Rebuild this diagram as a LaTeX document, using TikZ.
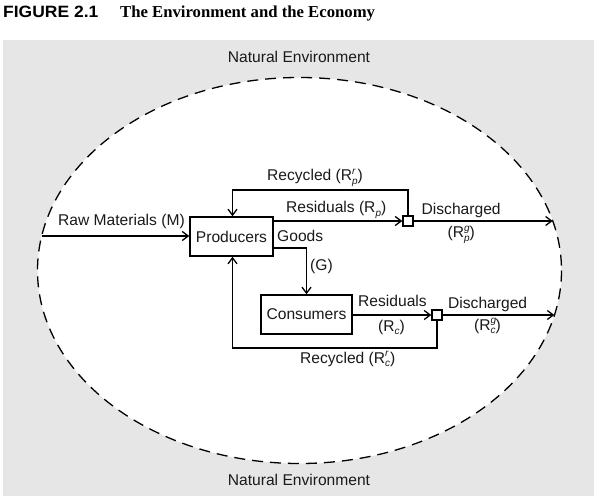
\documentclass[tikz,border=0pt]{standalone}
\usepackage{fontspec}
\setmainfont{Liberation Sans}
\newfontfamily\titleserif{Liberation Serif}
\usetikzlibrary{arrows.meta}
\definecolor{envgray}{HTML}{E6E6E6}
\definecolor{txtcol}{HTML}{1A1A1A}
\newcommand{\Rsx}[2]{R\rlap{\raisebox{0.78ex}{\fontsize{10bp}{10bp}\selectfont\itshape #1}}\raisebox{-0.42ex}{\fontsize{10bp}{10bp}\selectfont\itshape #2}}
\begin{document}
\begin{tikzpicture}[x=1bp,y=-1bp,
  lbl/.style={inner sep=0pt,anchor=base west,text=txtcol,font=\fontsize{15.6bp}{18bp}\selectfont},
  boxnode/.style={draw,line width=1.5bp,inner sep=0pt,text=txtcol,font=\fontsize{15.6bp}{18bp}\selectfont},
  sqnode/.style={draw,line width=1.5bp,fill=white,inner sep=0pt,minimum size=10bp},
  flow/.style={line width=1.5bp,-{Straight Barb[length=6bp,width=9bp,line width=1.3bp]}},
  plain/.style={line width=1.5bp}]
\useasboundingbox (0,0) rectangle (596,501);
% title
\node[inner sep=0pt,anchor=base west] (fig) at (3,18) {\scalebox{1.12}[1.05]{\fontsize{15.6bp}{18bp}\selectfont\bfseries FIGURE 2.1}};
\node[inner sep=0pt,anchor=base west] (ttl) at (120,18) {\titleserif\fontsize{16.7bp}{18bp}\selectfont\bfseries The Environment and the Economy};
% environment
\fill[envgray] (3,40) rectangle (594,496);
\draw[fill=white,line width=1.3bp,dash pattern=on 11bp off 7bp] (299.5,270.5) ellipse [x radius=262,y radius=193];
\node[lbl,anchor=base] (netop) at (299,63) {Natural Environment};
\node[lbl,anchor=base] (nebot) at (299,485) {Natural Environment};
% boxes
\node[boxnode,minimum width=83bp,minimum height=39bp] (prod) at (231.5,236.5) {Producers};
\node[boxnode,minimum width=91bp,minimum height=39bp] (cons) at (306.5,314.5) {Consumers};
\node[sqnode] (sqp) at (408,221) {};
\node[sqnode] (sqc) at (437,315) {};
% helper coordinates
\coordinate (rawin) at (41.7,236);
\coordinate (outp) at (552.7,221);
\coordinate (outc) at (554.4,315);
\coordinate (rp) at (232.5,190);
\coordinate (rc) at (232.5,348);
\coordinate (gd) at (306.5,248);
% connectors
\draw[flow] (rawin) -- (prod.west |- rawin);
\draw[flow] (prod.east |- sqp) -- (sqp.west);
\draw[flow] (sqp.north) |- (rp) -- (rp |- prod.north);
\draw[flow] (sqp.east) -- (outp);
\draw[plain] (prod.east |- gd) -- (gd);
\draw[flow] (gd) -- (cons.north);
\draw[flow] (cons.east |- sqc) -- (sqc.west);
\draw[flow] (sqc.east) -- (outc);
\draw[flow] (sqc.south) |- (rc) -- (rc |- prod.south);
\node[sqnode] at (sqp) {};
\node[sqnode] at (sqc) {};
% labels
\node[lbl] (lraw) at (58,226) {Raw Materials (M)};
\node[lbl] (lgoods) at (277,241) {Goods};
\node[lbl] (lrecp) at (267,181) {Recycled (\Rsx{r}{p})};
\node[lbl] (lresp) at (286,213) {Residuals (\Rsx{}{p})};
\node[lbl] (ldisp) at (421.5,215) {Discharged};
\node[lbl] (lrpg) at (447.5,238) {(\Rsx{g}{p})};
\node[lbl] (lg) at (310,270) {(G)};
\node[lbl] (lresc) at (358,306.5) {Residuals};
\node[lbl] (lrc) at (378,331) {(\Rsx{}{c})};
\node[lbl] (ldisc) at (448,308) {Discharged};
\node[lbl] (lrcg) at (474,330) {(\Rsx{g}{c})};
\node[lbl] (lrecc) at (300,363) {Recycled (\Rsx{r}{c})};
\end{tikzpicture}
\end{document}
